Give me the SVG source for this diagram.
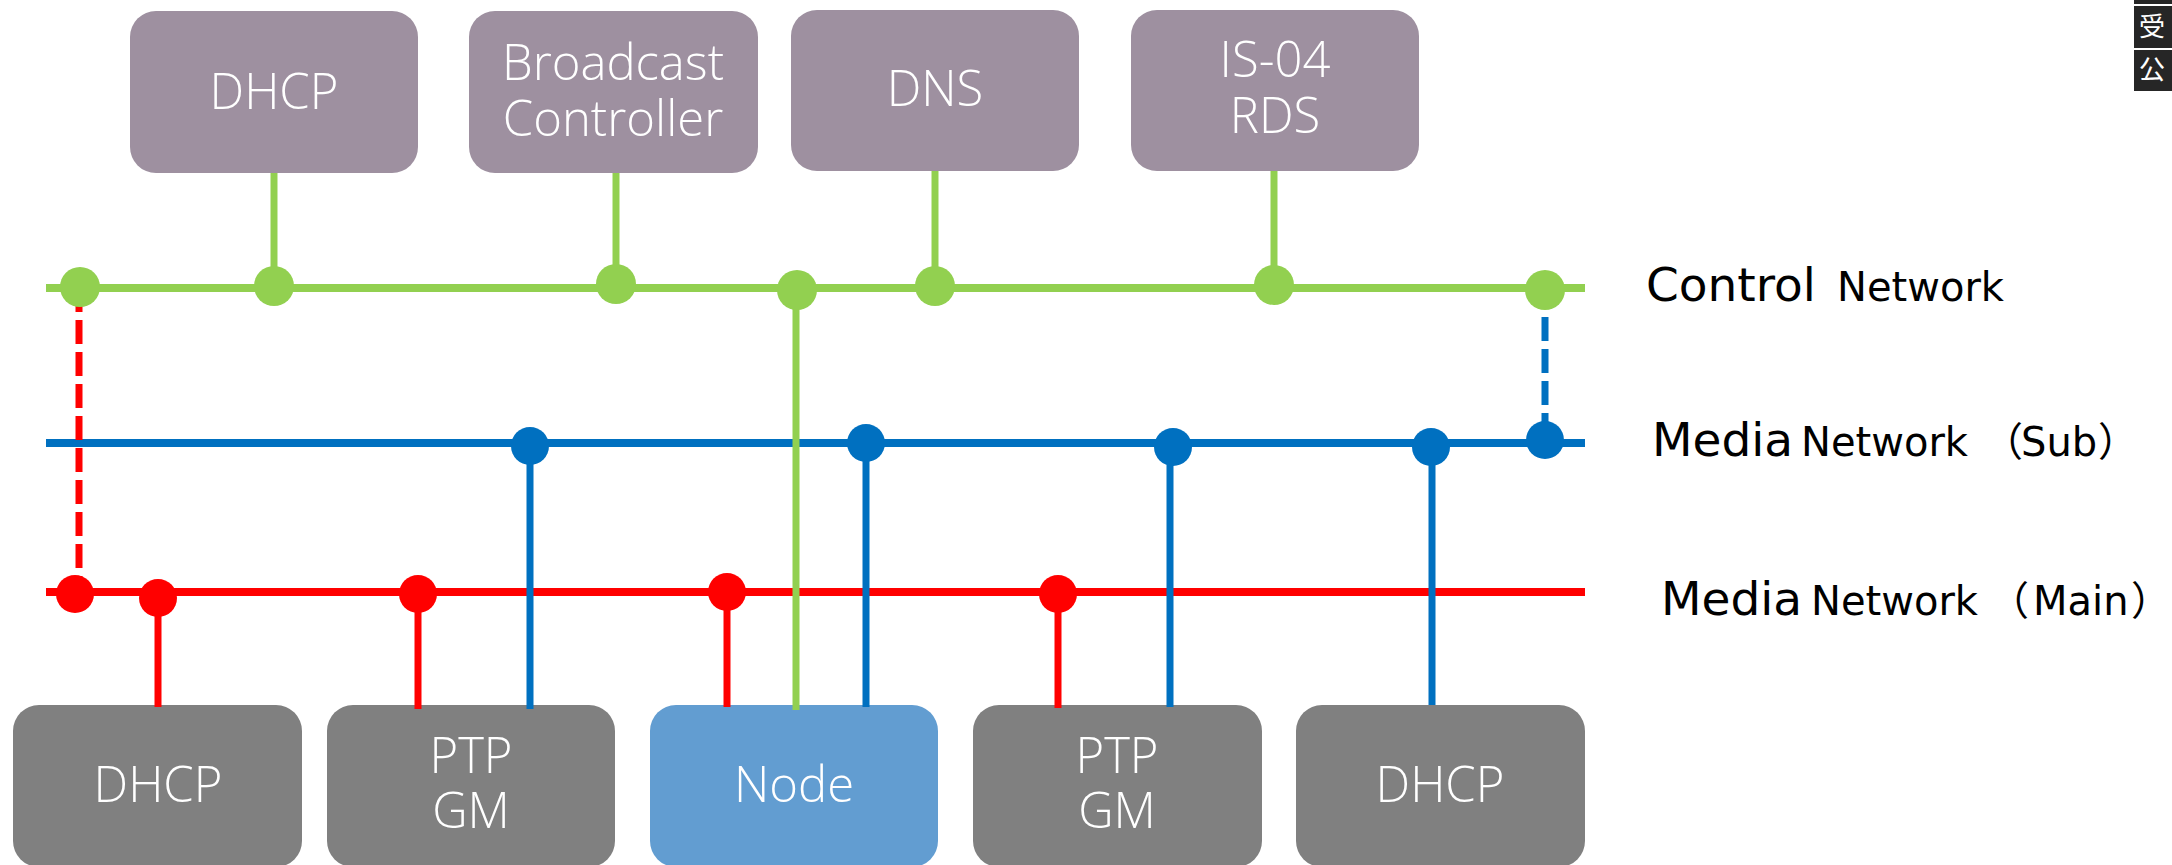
<svg xmlns="http://www.w3.org/2000/svg" width="2172" height="865" viewBox="0 0 2172 865">
<style>
.top{fill:#9E90A0}
.bot{fill:#808080}
.node{fill:#629DD1}
.bt{font-family:"Open Sans","Noto Sans",sans-serif;font-weight:300;font-size:49px;fill:#ffffff;text-anchor:middle}
.lbl{font-family:"DejaVu Sans","Noto Sans CJK JP",sans-serif;fill:#000000}
.g{stroke:#92D050;fill:none}
.b{stroke:#0070C0;fill:none}
.r{stroke:#FF0000;fill:none}
.gd{fill:#92D050}
.bd{fill:#0070C0}
.rd{fill:#FF0000}
.cj{font-family:"Noto Sans CJK JP",sans-serif;font-size:26px;fill:#ffffff;text-anchor:middle}
</style>
<rect width="2172" height="865" fill="#ffffff"/>

<g id="top-dhcp"><rect class="top" x="130" y="11" width="288" height="162" rx="26"/><text class="bt" x="274" y="109">DHCP</text></g>
<g id="broadcast-controller"><rect class="top" x="469" y="11" width="289" height="162" rx="26"/><text class="bt" x="613" y="80">Broadcast</text><text class="bt" x="613" y="136">Controller</text></g>
<g id="dns"><rect class="top" x="791" y="10" width="288" height="161" rx="26"/><text class="bt" x="935" y="106">DNS</text></g>
<g id="is04-rds"><rect class="top" x="1131" y="10" width="288" height="161" rx="26"/><text class="bt" x="1275" y="77">IS-04</text><text class="bt" x="1275" y="133">RDS</text></g>

<g id="bottom-dhcp1"><rect class="bot" x="13" y="705" width="289" height="162" rx="26"/><text class="bt" x="158" y="802">DHCP</text></g>
<g id="ptp-gm1"><rect class="bot" x="327" y="705" width="288" height="162" rx="26"/><text class="bt" x="471" y="773">PTP</text><text class="bt" x="471" y="828">GM</text></g>
<g id="node"><rect class="node" x="650" y="705" width="288" height="162" rx="26"/><text class="bt" x="794" y="802">Node</text></g>
<g id="ptp-gm2"><rect class="bot" x="973" y="705" width="289" height="162" rx="26"/><text class="bt" x="1117" y="773">PTP</text><text class="bt" x="1117" y="828">GM</text></g>
<g id="bottom-dhcp2"><rect class="bot" x="1296" y="705" width="289" height="162" rx="26"/><text class="bt" x="1440" y="802">DHCP</text></g>

<g id="connectors">
  <line class="r" x1="46" y1="592" x2="1585" y2="592" stroke-width="8"/>
  <line class="b" x1="46" y1="443" x2="1585" y2="443" stroke-width="8"/>
  <line class="g" x1="46" y1="288" x2="1585" y2="288" stroke-width="8"/>
  <g stroke-width="7">
    <line class="r" x1="158" y1="598" x2="158" y2="707"/>
    <line class="r" x1="418" y1="594" x2="418" y2="709"/>
    <line class="r" x1="727" y1="592" x2="727" y2="707"/>
    <line class="r" x1="1058" y1="594" x2="1058" y2="708"/>
    <line class="b" x1="530" y1="446" x2="530" y2="709"/>
    <line class="b" x1="866" y1="443" x2="866" y2="707"/>
    <line class="b" x1="1170" y1="447" x2="1170" y2="707"/>
    <line class="b" x1="1432" y1="447" x2="1432" y2="705"/>
    <line class="g" x1="274" y1="173" x2="274" y2="286"/>
    <line class="g" x1="616" y1="173" x2="616" y2="284"/>
    <line class="g" x1="935" y1="171" x2="935" y2="286"/>
    <line class="g" x1="1274" y1="171" x2="1274" y2="285"/>
    <line class="g" x1="796" y1="290" x2="796" y2="710"/>
    <line class="r" x1="79" y1="288" x2="79" y2="592" stroke-dasharray="24 8"/>
    <line class="b" x1="1545" y1="285" x2="1545" y2="440" stroke-dasharray="24 8"/>
  </g>
  <g class="gd">
    <circle cx="80" cy="287" r="20"/>
    <circle cx="274" cy="286" r="20"/>
    <circle cx="616" cy="284" r="20"/>
    <circle cx="797" cy="290" r="20"/>
    <circle cx="935" cy="286" r="20"/>
    <circle cx="1274" cy="285" r="20"/>
    <circle cx="1545" cy="290" r="20"/>
  </g>
  <g class="bd">
    <circle cx="530" cy="446" r="19"/>
    <circle cx="866" cy="443" r="19"/>
    <circle cx="1173" cy="447" r="19"/>
    <circle cx="1431" cy="447" r="19"/>
    <circle cx="1545" cy="440" r="19"/>
  </g>
  <g class="rd">
    <circle cx="75" cy="594" r="19"/>
    <circle cx="158" cy="598" r="19"/>
    <circle cx="418" cy="594" r="19"/>
    <circle cx="727" cy="592" r="19"/>
    <circle cx="1058" cy="594" r="19"/>
  </g>
</g>

<g id="labels">
  <text class="lbl" y="301"><tspan x="1646" font-size="47">Control</tspan><tspan x="1837" font-size="40">Network</tspan></text>
  <text class="lbl" y="456" font-size="40"><tspan x="1652" font-size="47">Media</tspan><tspan x="1801">Network</tspan><tspan x="1983">（</tspan><tspan x="2021">Sub</tspan><tspan x="2098">）</tspan></text>
  <text class="lbl" y="615" font-size="40"><tspan x="1661" font-size="47">Media</tspan><tspan x="1811">Network</tspan><tspan x="1989">（</tspan><tspan x="2033">Main</tspan><tspan x="2131">）</tspan></text>
</g>

<g id="corner-mark">
  <rect x="2134" y="0" width="38" height="4" fill="#262626"/>
  <rect x="2134" y="6" width="38" height="42" fill="#262626"/>
  <rect x="2134" y="50" width="38" height="41" fill="#262626"/>
  <text class="cj" x="2152" y="36">受</text>
  <text class="cj" x="2152" y="79">公</text>
</g>
</svg>
